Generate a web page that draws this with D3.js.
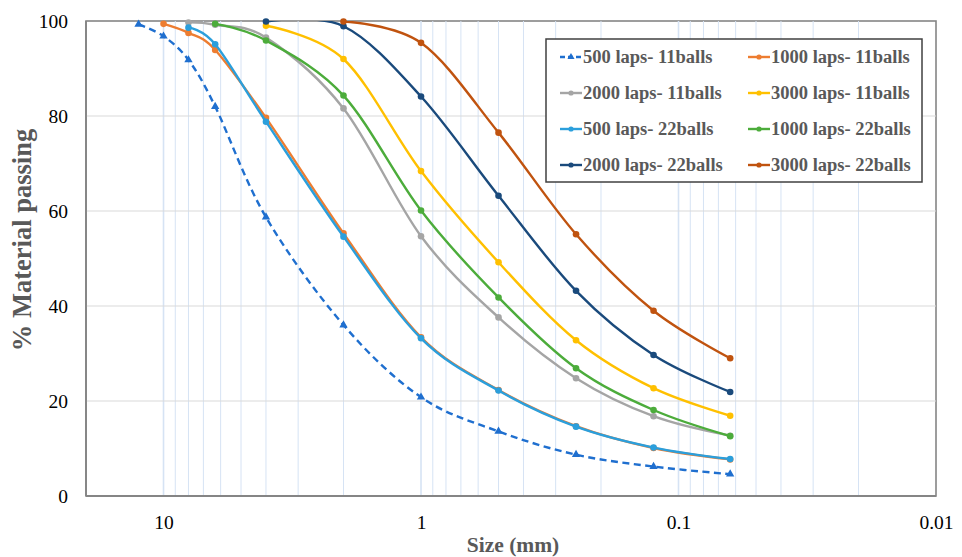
<!DOCTYPE html>
<html>
<head>
<meta charset="utf-8">
<script src="https://cdn.jsdelivr.net/npm/d3@7"></script>
<style>
  html, body { margin: 0; padding: 0; background: #fff; }
  svg { display: block; }
</style>
</head>
<body>
<svg id="chart" width="962" height="557"></svg>
<script>
// ---------- data ----------
const sizes = [12.5, 10, 8, 6.3, 4, 2, 1, 0.5, 0.25, 0.125, 0.063];

const seriesNames = [
  "500 laps- 11balls", "1000 laps- 11balls", "2000 laps- 11balls", "3000 laps- 11balls",
  "500 laps- 22balls", "1000 laps- 22balls", "2000 laps- 22balls", "3000 laps- 22balls"
];

const s500_11  = [99.3, 96.8, 91.8, 82.0, 58.7, 36.0, 20.8, 13.6, 8.7, 6.2, 4.6];
const s1000_11 = [null, 99.4, 97.5, 93.9, 79.6, 55.3, 33.4, 22.3, 14.7, 10.1, 7.7];
const s2000_11 = [null, null, 99.7, 99.2, 96.5, 81.6, 54.7, 37.6, 24.8, 16.8, 12.7];
const s3000_11 = [null, null, null, null, 99.0, 92.0, 68.4, 49.2, 32.8, 22.7, 16.9];
const s500_22  = [null, null, 98.6, 95.1, 78.8, 54.6, 33.2, 22.2, 14.6, 10.2, 7.8];
const s1000_22 = [null, null, null, 99.4, 95.9, 84.3, 60.1, 41.8, 26.9, 18.1, 12.6];
const s2000_22 = [null, null, null, null, 99.9, 98.9, 84.1, 63.2, 43.2, 29.7, 21.9];
const s3000_22 = [null, null, null, null, null, 99.9, 95.4, 76.5, 55.1, 39.0, 29.0];

const seriesValues = [s500_11, s1000_11, s2000_11, s3000_11, s500_22, s1000_22, s2000_22, s3000_22];

const xTickValues = [10, 1, 0.1, 0.01];
const xTickLabels = ["10", "1", "0.1", "0.01"];
const yTickValues = [0, 20, 40, 60, 80, 100];

// ---------- styles ----------
const colors = ["#1f6fcf", "#ed7d31", "#a5a5a5", "#ffc000", "#2b9fdc", "#4cac3b", "#1a4a7c", "#c0530f"];
const dashed = [true, false, false, false, false, false, false, false];
const serif = "'Liberation Serif', 'Times New Roman', Times, serif";

const svg = d3.select("#chart");
const L = 86, R = 936, T = 21, B = 496;

const x = d3.scaleLog().domain([20, 0.01]).range([L, R]);
const y = d3.scaleLinear().domain([0, 100]).range([B, T]);

svg.append("defs").append("clipPath").attr("id", "plotclip")
  .append("rect").attr("x", L).attr("y", T).attr("width", R - L).attr("height", B - T);

// vertical minor gridlines
const minor = [];
for (let e = -2; e <= 1; e++) {
  for (let k = 1; k <= 9; k++) {
    const v = k * Math.pow(10, e);
    if (v > 0.01 && v < 20) minor.push(v);
  }
}
svg.append("g").selectAll("line").data(minor).join("line")
  .attr("x1", d => x(d)).attr("x2", d => x(d))
  .attr("y1", T).attr("y2", B)
  .attr("stroke", "#d6e3f4")
  .attr("stroke-width", d => (Math.abs(Math.log10(d) - Math.round(Math.log10(d))) < 1e-9) ? 1.6 : 1);

// horizontal gridlines
svg.append("g").selectAll("line").data(yTickValues.filter(v => v > 0 && v < 100)).join("line")
  .attr("x1", L).attr("x2", R)
  .attr("y1", d => y(d)).attr("y2", d => y(d))
  .attr("stroke", "#d9d9d9").attr("stroke-width", 1.2);

// y axis labels
const yAxis = d3.axisLeft(y).tickValues(yTickValues).tickSize(0).tickPadding(18);
const gy = svg.append("g").attr("transform", `translate(${L},0)`).call(yAxis);
gy.select(".domain").remove();
gy.attr("font-family", serif);
gy.selectAll("text")
  .style("font-family", serif)
  .attr("font-size", 19.5).attr("fill", "#000");

// x axis labels
const xAxis = d3.axisBottom(x).tickValues(xTickValues).tickFormat((d, i) => xTickLabels[i]).tickSize(0).tickPadding(19);
const gx = svg.append("g").attr("transform", `translate(0,${B})`).call(xAxis);
gx.select(".domain").remove();
gx.attr("font-family", serif);
gx.selectAll("text")
  .style("font-family", serif)
  .attr("font-size", 19.5).attr("fill", "#000");

// axis titles
svg.append("text")
  .attr("transform", "translate(31,240) rotate(-90)")
  .attr("text-anchor", "middle")
  .style("font-family", serif)
  .attr("font-weight", "bold").attr("font-size", 26.5).attr("fill", "#595959")
  .text("% Material passing");

svg.append("text")
  .attr("x", 513).attr("y", 552)
  .attr("text-anchor", "middle")
  .style("font-family", serif)
  .attr("font-weight", "bold").attr("font-size", 21.5).attr("fill", "#595959")
  .text("Size (mm)");

// series
const line = d3.line()
  .defined(d => d.v !== null)
  .x(d => x(d.s)).y(d => y(d.v))
  .curve(d3.curveCatmullRom.alpha(0));

const tri = d3.symbol().type(d3.symbolTriangle).size(30);

const linesG = svg.append("g");
const marksG = svg.append("g");
seriesValues.forEach((vals, i) => {
  const pts = sizes.map((s, j) => ({ s, v: vals[j] })).filter(d => d.v !== null);
  linesG.append("path").datum(pts)
    .attr("clip-path", "url(#plotclip)")
    .attr("d", line)
    .attr("fill", "none")
    .attr("stroke", colors[i])
    .attr("stroke-width", 2.4)
    .attr("stroke-dasharray", dashed[i] ? "7,4.5" : null);
  const g = linesG.append("g");
  if (dashed[i]) {
    g.selectAll("path.m").data(pts).join("path").attr("class", "m")
      .attr("d", tri)
      .attr("transform", d => `translate(${x(d.s)},${y(d.v)})`)
      .attr("fill", colors[i]);
  } else {
    g.selectAll("circle").data(pts).join("circle")
      .attr("cx", d => x(d.s)).attr("cy", d => y(d.v)).attr("r", 3.3)
      .attr("fill", colors[i]);
  }
});

// plot frame
svg.insert("rect", "g").attr("x", L).attr("y", T).attr("width", R - L).attr("height", B - T)
  .attr("fill", "none").attr("stroke", "#858585").attr("stroke-width", 1.6);
svg.append("line").attr("x1", L).attr("x2", L).attr("y1", T).attr("y2", B)
  .attr("stroke", "#858585").attr("stroke-width", 1.8);
svg.append("line").attr("x1", L).attr("x2", R).attr("y1", B).attr("y2", B)
  .attr("stroke", "#858585").attr("stroke-width", 1.8);

// legend
const lg = svg.append("g");
lg.append("rect").attr("x", 546).attr("y", 39).attr("width", 376).attr("height", 143)
  .attr("fill", "#fff").attr("stroke", "#404040").attr("stroke-width", 1.5);

const rowY = [57, 93, 129, 165];
const colX = [560, 748];
seriesNames.forEach((name, i) => {
  const col = i % 2, row = Math.floor(i / 2);
  const lx = colX[col], ly = rowY[row];
  const item = lg.append("g");
  item.append("line").attr("x1", lx).attr("x2", lx + 22).attr("y1", ly).attr("y2", ly)
    .attr("stroke", colors[i]).attr("stroke-width", 2.4)
    .attr("stroke-dasharray", dashed[i] ? "5,3" : null);
  if (dashed[i]) {
    item.append("path").attr("d", d3.symbol().type(d3.symbolTriangle).size(22))
      .attr("transform", `translate(${lx + 11},${ly})`).attr("fill", colors[i]);
  } else {
    item.append("circle").attr("cx", lx + 11).attr("cy", ly).attr("r", 2.6).attr("fill", colors[i]);
  }
  item.append("text").attr("x", lx + 23).attr("y", ly).attr("dy", "0.35em")
    .style("font-family", serif)
    .attr("font-weight", "bold").attr("font-size", 18.5).attr("fill", "#595959")
    .text(name);
});
</script>
</body>
</html>
